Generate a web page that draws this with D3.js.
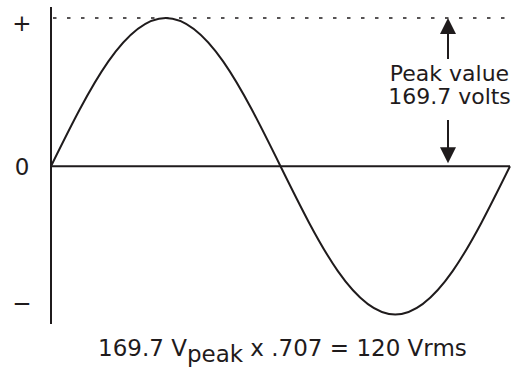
<!DOCTYPE html>
<html>
<head>
<meta charset="utf-8">
<script src="https://cdn.jsdelivr.net/npm/d3@7/dist/d3.min.js"></script>
<style>
  html, body { margin: 0; padding: 0; background: #fff; }
  svg { display: block; }
  text { font-family: "DejaVu Sans", sans-serif; fill: #1f1b1c; }
</style>
</head>
<body>
<svg id="chart" width="515" height="370"></svg>
<script>
// One cycle of 120 V household AC, sampled every 45 degrees of phase.
const phaseDeg = [0, 45, 90, 135, 180, 225, 270, 315, 360];
const volts    = [0, 120, 169.7, 120, 0, -120, -169.7, -120, 0];
const peakVolts = 169.7;

const axisLabels = ["+", "0", "\u2212"];
const axisValues = [peakVolts, 0, -peakVolts];

const peakLabel = ["Peak value", "169.7 volts"];
const formulaParts = ["169.7 V", "peak", " x .707 = 120 Vrms"];

const ink = "#1f1b1c";
const svg = d3.select("#chart");

const x = d3.scaleLinear().domain([0, 360]).range([51, 510]);
const y = d3.scaleLinear().domain([-peakVolts, peakVolts]).range([314.5, 18]);

// vertical axis
svg.append("line")
  .attr("x1", x(0)).attr("x2", x(0))
  .attr("y1", 7).attr("y2", 324)
  .attr("stroke", ink).attr("stroke-width", 2);

// zero line
svg.append("line")
  .attr("x1", x(0)).attr("x2", x(360))
  .attr("y1", y(0)).attr("y2", y(0))
  .attr("stroke", ink).attr("stroke-width", 2);

// dotted peak reference
svg.append("line")
  .attr("x1", x(0) + 2).attr("x2", x(360))
  .attr("y1", y(peakVolts)).attr("y2", y(peakVolts))
  .attr("stroke", ink).attr("stroke-width", 1.6)
  .attr("stroke-dasharray", "3.5,10.5");

// the waveform
const wave = d3.line()
  .x((d, i) => x(phaseDeg[i]))
  .y(d => y(d))
  .curve(d3.curveNatural);

svg.append("path")
  .attr("d", wave(volts))
  .attr("fill", "none")
  .attr("stroke", ink)
  .attr("stroke-width", 2);

// axis marks (+ / 0 / −) beside the vertical axis
const labelShift = [13, 9, -4];
svg.selectAll("text.axislabel")
  .data(axisLabels)
  .join("text")
  .attr("class", "axislabel")
  .attr("x", 22)
  .attr("y", (d, i) => y(axisValues[i]) + labelShift[i])
  .attr("text-anchor", "middle")
  .attr("font-size", 23)
  .text(d => d);

// peak arrows
const ax = 448;
const head = 16, headW = 8;
function arrow(tipY, tailY) {
  const dir = Math.sign(tailY - tipY);
  svg.append("line")
    .attr("x1", ax).attr("x2", ax)
    .attr("y1", tipY + dir * (head - 1)).attr("y2", tailY)
    .attr("stroke", ink).attr("stroke-width", 2);
  svg.append("path")
    .attr("d", `M${ax},${tipY} L${ax - headW},${tipY + dir * head} L${ax + headW},${tipY + dir * head} Z`)
    .attr("fill", ink);
}
arrow(y(peakVolts), 59);
arrow(y(0) - 3, 120);

svg.selectAll("text.peak")
  .data(peakLabel)
  .join("text")
  .attr("class", "peak")
  .attr("x", 449.5)
  .attr("y", (d, i) => 81 + i * 23)
  .attr("text-anchor", "middle")
  .attr("font-size", 22)
  .text(d => d);

// rms formula
const f = svg.append("text")
  .attr("x", 98).attr("y", 356)
  .attr("font-size", 23);
f.append("tspan").text(formulaParts[0]);
f.append("tspan").attr("dy", 6).text(formulaParts[1]);
f.append("tspan").attr("dy", -6).text(formulaParts[2]);
</script>
</body>
</html>
